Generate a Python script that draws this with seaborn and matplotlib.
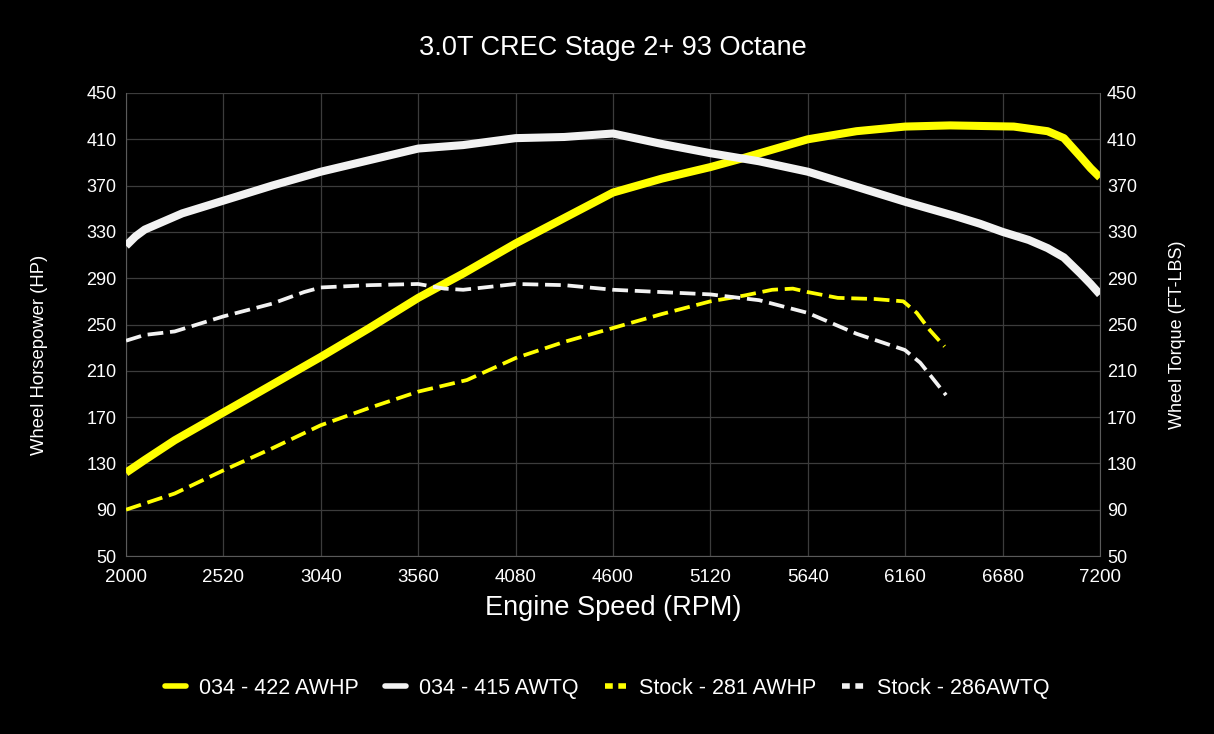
"""Dyno chart: 3.0T CREC Stage 2+ 93 Octane vs stock."""

import matplotlib.pyplot as plt
import seaborn as sns
from matplotlib.lines import Line2D

# 034 tune, wheel horsepower
tuned_hp_rpm = [2000, 2100, 2260, 2520, 2780, 3040, 3300, 3560, 3800, 4080, 4340, 4600,
                4860, 5120, 5300, 5640, 5900, 6160, 6400, 6740, 6920, 7007, 7096, 7150, 7200]
tuned_hp = [122, 133, 150, 174, 198, 222, 247, 273, 294, 320, 342, 364,
            376, 386, 394, 410, 417, 421, 422, 421, 417, 411, 395, 385, 377]

# 034 tune, wheel torque
tuned_tq_rpm = [2000, 2050, 2100, 2200, 2300, 2520, 2780, 3040, 3300, 3560, 3800, 4080,
                4340, 4600, 4860, 5120, 5380, 5640, 5900, 6160, 6420, 6560, 6680, 6820,
                6920, 7007, 7096, 7150, 7200]
tuned_tq = [318, 326, 332, 339, 346, 357, 370, 382, 392, 402, 405, 411,
            412, 415, 406, 398, 391, 382, 369, 356, 344, 337, 330, 323,
            316, 308, 294, 285, 276]

# stock, wheel horsepower
stock_hp_rpm = [2000, 2260, 2520, 2780, 3040, 3300, 3560, 3820, 4080, 4340, 4600,
                4860, 5120, 5300, 5450, 5560, 5640, 5800, 6000, 6150, 6222, 6292, 6370]
stock_hp = [90, 104, 124, 143, 163, 178, 192, 202, 221, 235, 247,
            259, 270, 275, 280, 281, 278, 273, 272, 270, 260, 245, 231]

# stock, wheel torque
stock_tq_rpm = [2000, 2100, 2260, 2520, 2780, 2950, 3040, 3300, 3560, 3700, 3800,
                4080, 4340, 4600, 4860, 5120, 5380, 5640, 5900, 6158, 6240, 6378]
stock_tq = [236, 241, 244, 257, 268, 278, 282, 284, 285, 281, 280,
            285, 284, 280, 278, 276, 271, 260, 242, 228, 217, 189]

x_ticks = list(range(2000, 7201, 520))
y_ticks = list(range(50, 451, 40))
legend_labels = ["034 - 422 AWHP", "034 - 415 AWTQ", "Stock - 281 AWHP", "Stock - 286AWTQ"]

YELLOW = "#ffff00"
WHITE = "#f2f2f2"
DASH = [4.2, 1.8]

sns.set_style("dark")
plt.rcParams["font.family"] = ["Liberation Sans", "DejaVu Sans"]

fig = plt.figure(figsize=(12.14, 7.34), dpi=100, facecolor="black")
ax = fig.add_axes([0.1038, 0.2425, 0.8023, 0.6308], facecolor="black")
ax2 = ax.twinx()

sns.lineplot(x=tuned_hp_rpm, y=tuned_hp, ax=ax, color=YELLOW, lw=5.8,
             solid_capstyle="butt", solid_joinstyle="round", sort=False, zorder=4)
sns.lineplot(x=tuned_tq_rpm, y=tuned_tq, ax=ax2, color=WHITE, lw=5.8,
             solid_capstyle="butt", solid_joinstyle="round", sort=False, zorder=4)
sns.lineplot(x=stock_hp_rpm, y=stock_hp, ax=ax, color=YELLOW, lw=2.7,
             sort=False, zorder=3).lines[-1].set_dashes(DASH)
sns.lineplot(x=stock_tq_rpm, y=stock_tq, ax=ax2, color=WHITE, lw=2.7,
             sort=False, zorder=3).lines[-1].set_dashes(DASH)

for a in (ax, ax2):
    a.set_xlim(2000, 7200)
    a.set_ylim(50, 450)
    a.set_yticks(y_ticks)
    for s in a.spines.values():
        s.set_visible(False)
ax.tick_params(axis="y", colors="white", labelsize=13, length=0, pad=7)
ax2.tick_params(axis="y", colors="white", labelsize=13, length=0, pad=5)
ax.set_xticks(x_ticks)
ax.tick_params(axis="x", colors="white", labelsize=13.5, length=0, pad=9)
ax.grid(True, color="#3c3c3c", lw=0.9)
ax2.grid(False)
ax2.patch.set_visible(False)
ax.spines["left"].set_visible(True)
ax.spines["bottom"].set_visible(True)
ax.spines["left"].set_color("#5a5a5a")
ax.spines["bottom"].set_color("#5a5a5a")
ax2.spines["right"].set_visible(True)
ax2.spines["right"].set_color("#5a5a5a")

ax.set_title("3.0T CREC Stage 2+ 93 Octane", color="white", fontsize=19.5, pad=27)
ax.set_xlabel("Engine Speed (RPM)", color="white", fontsize=19.5)
ax.xaxis.set_label_coords(0.5, -0.084)
ax.set_ylabel("Wheel Horsepower (HP)", color="white", fontsize=13.3)
ax.yaxis.set_label_coords(-0.080, 0.434)
ax2.set_ylabel("Wheel Torque (FT-LBS)", color="white", fontsize=13)
ax2.yaxis.set_label_coords(1.071, 0.477)

handles = [
    Line2D([], [], color=YELLOW, lw=4),
    Line2D([], [], color=WHITE, lw=4),
    Line2D([], [], color=YELLOW, lw=4, dashes=[1.4, 1.0]),
    Line2D([], [], color=WHITE, lw=4, dashes=[1.4, 1.0]),
]
fig.legend(handles, legend_labels, loc="center", bbox_to_anchor=(0.5, 0.062), ncol=4,
           frameon=False, fontsize=15.5, labelcolor="white", handlelength=1.0,
           handletextpad=0.6, columnspacing=1.2)

fig.savefig("out.png", dpi=100, facecolor="black")
